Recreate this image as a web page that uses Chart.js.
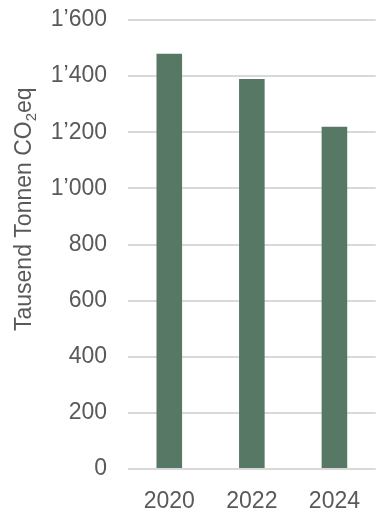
<!DOCTYPE html>
<html>
<head>
<meta charset="utf-8">
<script src="https://cdn.jsdelivr.net/npm/chart.js@4/dist/chart.umd.min.js"></script>
<style>
  html, body { margin: 0; padding: 0; background: #ffffff; }
  #wrap { width: 379px; height: 508px; position: relative; }
</style>
</head>
<body>
<div id="wrap"><canvas id="c"></canvas></div>
<script>
// Emissions by reporting year (thousand tonnes CO2eq)
const years = ['2020', '2022', '2024'];
const emissions = [1480, 1390, 1220];
const yTickValues = [0, 200, 400, 600, 800, 1000, 1200, 1400, 1600];

const FONT = '"Liberation Sans", Arial, sans-serif';
const TEXT = '#595959';

// Swiss-style thousands separator: 1’600
function fmt(v) {
  return String(v).replace(/\B(?=(\d{3})+(?!\d))/g, '\u2019');
}

// Rotated axis title with a subscript "2"
const axisTitle = {
  id: 'axisTitle',
  afterDraw(chart) {
    const ctx = chart.ctx;
    const parts = [
      { t: 'Tausend Tonnen CO', size: 23, dy: 0 },
      { t: '2', size: 15, dy: 5 },
      { t: 'eq', size: 23, dy: 0 }
    ];
    ctx.save();
    ctx.translate(31, 331);
    ctx.rotate(-Math.PI / 2);
    ctx.fillStyle = TEXT;
    ctx.textBaseline = 'alphabetic';
    ctx.textAlign = 'left';
    let x = 0;
    for (const p of parts) {
      ctx.font = p.size + 'px ' + FONT;
      ctx.fillText(p.t, x, p.dy);
      x += ctx.measureText(p.t).width;
    }
    ctx.restore();
  }
};

new Chart(document.getElementById('c'), {
  type: 'bar',
  data: {
    labels: years,
    datasets: [{
      data: emissions,
      backgroundColor: '#587866',
      borderWidth: 0,
      barPercentage: 0.31,
      categoryPercentage: 1
    }]
  },
  options: {
    responsive: true,
    maintainAspectRatio: false,
    animation: false,
    layout: { padding: { top: 20, right: 0, left: 0, bottom: 0 } },
    plugins: {
      legend: { display: false },
      tooltip: { enabled: false }
    },
    scales: {
      x: {
        grid: { display: false, drawTicks: false },
        border: { display: false },
        ticks: {
          color: TEXT,
          font: { family: FONT, size: 23 },
          padding: 19,
          maxRotation: 0
        },
        afterFit(s) { s.height = 39; }
      },
      y: {
        min: 0,
        max: 1600,
        afterBuildTicks(s) { s.ticks = yTickValues.map(v => ({ value: v })); },
        grid: { color: '#d9d9d9', lineWidth: 2, drawTicks: false },
        border: { display: false },
        ticks: {
          color: TEXT,
          font: { family: FONT, size: 23 },
          padding: 21,
          callback: v => fmt(v)
        },
        afterFit(s) {
          s.width = 128;
          s.paddingTop = 0;
          s.paddingBottom = 0;
        }
      }
    }
  },
  plugins: [axisTitle]
});
</script>
</body>
</html>
